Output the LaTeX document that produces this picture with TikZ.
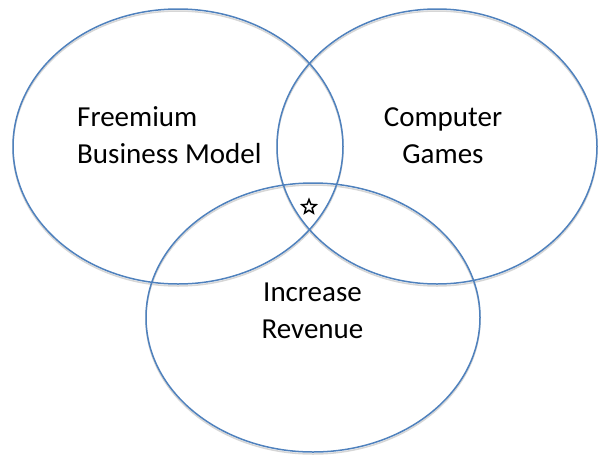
\documentclass[tikz,border=0pt]{standalone}
\usepackage{fontspec}
\setmainfont{Carlito}
\usetikzlibrary{shapes.geometric}
\definecolor{vennblue}{RGB}{79,129,189}

\tikzset{
  venn/.style={draw=vennblue, line width=1.5pt, ellipse, inner sep=0pt},
  vennshadow/.style={draw=black!16, line width=1.5pt, ellipse, inner sep=0pt},
  word/.style={font=\fontsize{29}{37}\selectfont, inner sep=0pt}
}

\begin{document}
\begin{tikzpicture}[x=1pt, y=-1pt]
 \useasboundingbox (0,0) rectangle (599,461);
 % soft shadows under the rings
 \foreach \cx/\cy/\w/\h in {178/148.5/330/275, 437/148.5/320/275, 313/319.5/334/269}
   \node[vennshadow, minimum width=\w pt, minimum height=\h pt] at (\cx,\cy) {};
 % the three rings
 \node[venn, minimum width=330pt, minimum height=275pt] (freemium) at (178,146.5) {};
 \node[venn, minimum width=320pt, minimum height=275pt] (games) at (437,146.5) {};
 \node[venn, minimum width=334pt, minimum height=269pt] (revenue) at (313,317.5) {};
 % labels (base = baseline of the last line)
 \node[word, align=left, anchor=base west] (fbm) at (77,163) {Freemium\\Business Model};
 \node[word, align=center, anchor=base] (cg) at (443,163) {Computer\\Games};
 \node[word, align=center, anchor=base] (ir) at (312.5,338) {Increase\\Revenue};
 % the overlap of all three
 \node[star, star points=5, star point ratio=2.3, draw, line width=1.5pt,
       minimum size=15pt, inner sep=0pt] (mark) at (309,207) {};
\end{tikzpicture}
\end{document}
